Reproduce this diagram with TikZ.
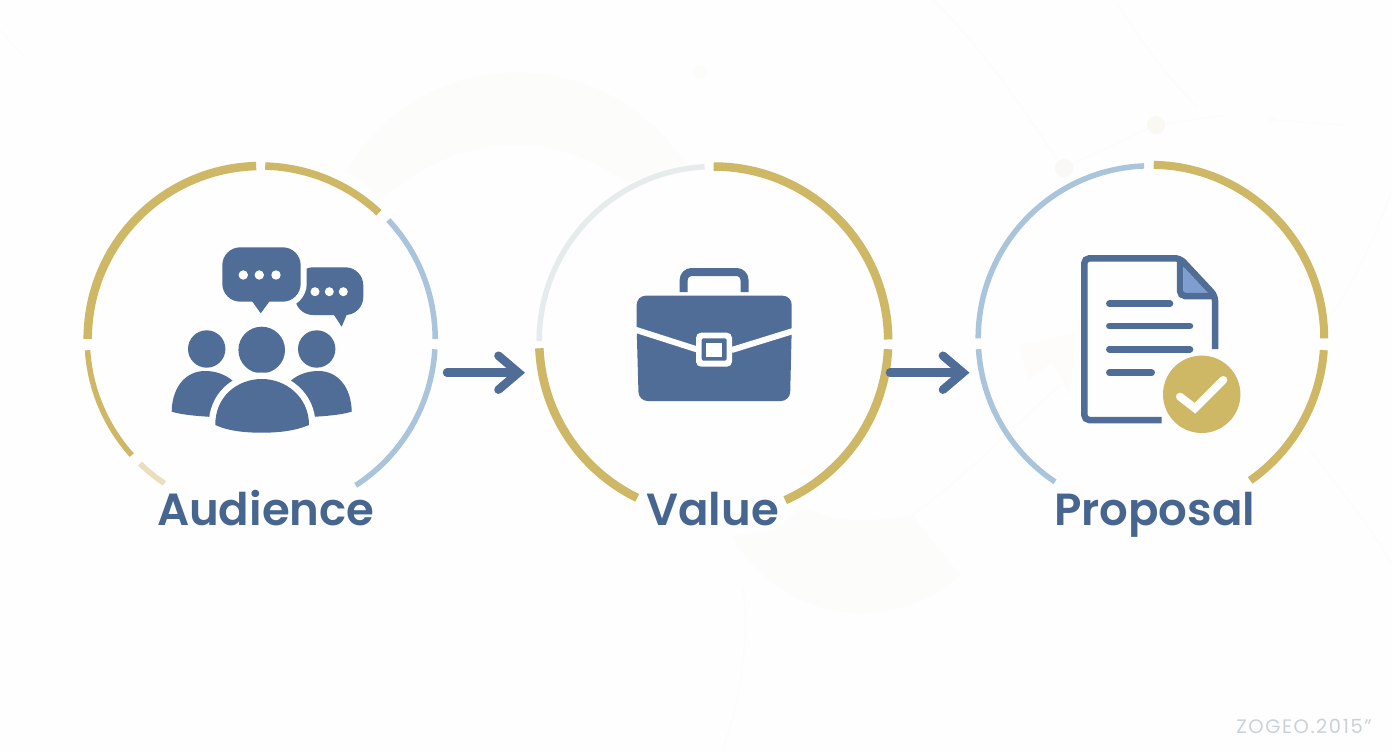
\documentclass[tikz,border=0pt]{standalone}
\usepackage{fontspec}
\setmainfont{Poppins}[BoldFont={* SemiBold}]
\usetikzlibrary{arrows.meta}
\definecolor{bgc}{HTML}{FEFEFE}
\definecolor{ghost}{HTML}{FCFCFA}
\definecolor{ghostl}{HTML}{FDFCFB}
\definecolor{ghostd}{HTML}{FAF8F3}
\definecolor{gold}{HTML}{CEB765}
\definecolor{palegold}{HTML}{E9DFBE}
\definecolor{sky}{HTML}{A9C4DB}
\definecolor{mist}{HTML}{E6ECEC}
\definecolor{slate}{HTML}{4F6D96}
\definecolor{labelc}{HTML}{466690}
\definecolor{fold}{HTML}{7F9DCF}
\definecolor{mark}{HTML}{CAD2D9}
\newcommand{\ringarc}[6]{\draw[line width=#5pt,draw=#6] ([shift={(#3:#2pt)}]#1) arc[start angle=#3,end angle=#4,radius=#2pt];}
\tikzset{
  hub/.style={circle,minimum size=340pt,inner sep=0pt},
  caption/.style={anchor=base,inner sep=0pt,text=labelc,font=\fontsize{45}{45}\selectfont\bfseries},
  flow/.style={draw=slate,line width=8.5pt,line cap=round,-{Straight Barb[length=20pt,width=34pt,line cap=round,line join=miter]}},
  thin ghost/.style={draw=ghostl,line width=1.2pt},
  icon/.style={fill=slate,draw=none},
  docline/.style={draw=slate,line width=6.5pt,line cap=round},
}
\begin{document}
\begin{tikzpicture}[x=1pt,y=-1pt]
\useasboundingbox (0,0) rectangle (1392,752);
\fill[bgc] (0,0) rectangle (1392,752);
% background ghosts
\fill[ghost] (346.7,171.7) .. controls (385,105) and (450,72.7) .. (516.7,72.7) .. controls (585,72.7) and (645,105) .. (685,163) -- (626.7,183) .. controls (595,158) and (555,145) .. (516.7,145) .. controls (470,145) and (425,162) .. (383,196.7) -- cycle;
\fill[ghost] (731.7,536.7) .. controls (765,590) and (815,613) .. (860,613) .. controls (900,613) and (935,598) .. (960,575) -- (911.7,515) .. controls (895,519) and (875,520) .. (856.7,520) .. controls (838,520) and (820,515) .. (803,506.7) -- (775,530) -- cycle;
\fill[ghostl] (1020,345) -- (1075,333) -- (1070,395) -- (1052,362) -- (1028,380) -- cycle;
\draw[thin ghost] (743,587) .. controls (750,640) and (740,700) .. (722,752);
\draw[thin ghost] (911.7,515) .. controls (950,490) and (1000,440) .. (1060,385);
\draw[thin ghost] (933,0) .. controls (960,25) and (1010,85) .. (1060,165);
\draw[thin ghost] (1117,3) .. controls (1140,40) and (1170,80) .. (1197,107);
\draw[thin ghost] (1064,168) -- (1156,125) -- (1225,115);
\draw[thin ghost] (1272,120) -- (1345,125);
\draw[thin ghost] (1392,190) .. controls (1370,250) and (1350,290) .. (1327,320);
\draw[thin ghost] (1310,450) .. controls (1340,490) and (1370,525) .. (1392,565);
\draw[thin ghost] (0,30) -- (25,58);
\fill[ghostd] (1064,168) circle[radius=9pt];
\fill[ghostd] (1156,125) circle[radius=9pt];
\fill[ghost] (700,72) circle[radius=7pt];
\fill[ghost] (1272,120) circle[radius=3pt];
% hubs
\node[hub] (c1) at (260.7,339) {};
\node[hub] (c2) at (713.7,341) {};
\node[hub] (c3) at (1150.7,338.3) {};
% ring 1
\ringarc{c1}{173}{180}{91.5}{8.5}{gold}
\ringarc{c1}{173}{88.5}{46.9}{7.5}{gold}
\ringarc{c1}{174.5}{43}{0}{5.5}{sky}
\ringarc{c1}{174.5}{-3.4}{-57}{5.5}{sky}
\ringarc{c1}{173.5}{183.7}{222}{5.5}{gold}
\ringarc{c1}{173.5}{225.9}{236.3}{5.5}{palegold}
% ring 2
\ringarc{c2}{174.5}{180}{93}{5.5}{mist}
\ringarc{c2}{174.5}{90}{0.5}{8.5}{gold}
\ringarc{c2}{174.5}{-2.7}{-65.8}{8.5}{gold}
\ringarc{c2}{174.5}{182.4}{244}{8.5}{gold}
% ring 3
\ringarc{c3}{172.5}{180}{92.2}{5.5}{sky}
\ringarc{c3}{173.5}{89}{0}{8}{gold}
\ringarc{c3}{173.5}{-3.9}{-55}{8}{gold}
\ringarc{c3}{172.5}{183.6}{236.3}{5.5}{sky}
% people icon
\fill[icon,rounded corners=18pt] (295,267.3) rectangle (363.3,315);
\fill[icon] (333.3,314) -- (341.7,326.7) -- (347,314) -- cycle;
\draw[white,line width=12pt,rounded corners=18pt] (222.3,247.3) rectangle (300.7,301.7);
\fill[icon,rounded corners=18pt] (222.3,247.3) rectangle (300.7,301.7);
\fill[icon] (251.7,300.7) -- (260.7,313.3) -- (270,300.7) -- cycle;
\foreach \x in {243.3,259.3,276}{\fill[white] (\x,275) circle[radius=4.7pt];}
\foreach \x in {315,329.3,343.3}{\fill[white] (\x,291.7) circle[radius=4.5pt];}
\fill[icon] (206.7,349) circle[radius=18.7pt];
\fill[icon] (316.7,349) circle[radius=18.7pt];
\fill[icon] (261.7,350) circle[radius=23.3pt];
\fill[icon] (171.7,411.7) .. controls (172,388) and (185,371) .. (205,371) .. controls (215,371) and (225,374) .. (233,381) -- (212,417) .. controls (197,416) and (183,415) .. (171.7,411.7) -- cycle;
\fill[icon] (351.7,411.7) .. controls (351.4,388) and (338.4,371) .. (318.4,371) .. controls (308.4,371) and (298.4,374) .. (290.4,381) -- (311.4,417) .. controls (326.4,416) and (340.4,415) .. (351.7,411.7) -- cycle;
\path[draw=white,line width=13pt,fill=white] (215.3,425) .. controls (215,397) and (237,379) .. (261.7,379) .. controls (286,379) and (309,397) .. (309,425) .. controls (295,431) and (278,432.7) .. (261.7,432.7) .. controls (245,432.7) and (228,431) .. (215.3,425) -- cycle;
\fill[icon] (215.3,425) .. controls (215,397) and (237,379) .. (261.7,379) .. controls (286,379) and (309,397) .. (309,425) .. controls (295,431) and (278,432.7) .. (261.7,432.7) .. controls (245,432.7) and (228,431) .. (215.3,425) -- cycle;
% briefcase icon
\draw[slate,line width=8pt,rounded corners=8pt] (683.7,292) -- (683.7,272) -- (744.5,272) -- (744.5,292);
\fill[icon,rounded corners=9pt] (636.7,330) -- (636.7,295.7) -- (791.7,295.7) -- (791.7,330) -- (790,401) -- (638.7,401) -- cycle;
\draw[white,line width=6pt] (630,328) -- (696.7,349.3);
\draw[white,line width=6pt] (798,329.5) -- (731.7,350);
\fill[white,rounded corners=5pt] (696,332.7) rectangle (732,366.7);
\fill[icon,rounded corners=2pt] (701.7,338.3) rectangle (726.7,360.7);
\fill[white] (706,342.7) rectangle (721.7,356.7);
% document icon
\fill[fold] (1183.3,266.7) -- (1208.3,293.3) -- (1183.3,293.3) -- cycle;
\draw[slate,line width=6.5pt,rounded corners=5pt] (1161.7,420) -- (1084.3,420) -- (1084.3,258.3) -- (1180,258.3) -- (1215,295.7) -- (1215,349);
\draw[slate,line width=6.5pt,rounded corners=5pt] (1180,258.3) -- (1180,296) -- (1215,296);
\draw[docline] (1109.3,303.7) -- (1170,303.7);
\draw[docline] (1109.3,326) -- (1190,326);
\draw[docline] (1109.3,349.3) -- (1190,349.3);
\draw[docline] (1109.3,372.7) -- (1151.7,372.7);
\fill[gold] (1201.7,394.3) circle[radius=38.7pt];
\draw[white,line width=8pt,line cap=round,line join=miter] (1180,396.7) -- (1195,408.3) -- (1223.3,380);
% connectors
\coordinate (a1s) at (447,372.7);
\coordinate (a1e) at (525,372.7);
\coordinate (a2s) at (890,372.7);
\coordinate (a2e) at (969.5,372.7);
\draw[flow] (a1s) -- (a1e);
\draw[flow] (a2s) -- (a2e);
% captions
\node[caption] (t1) at (265.7,525) {Audience};
\node[caption] (t2) at (712.5,525) {Value};
\node[caption] (t3) at (1154.5,525) {Proposal};
\node[anchor=base east,inner sep=0pt,text=mark,font=\fontsize{19.5}{19.5}\selectfont\addfontfeature{LetterSpace=8}] (wm) at (1372,733) {ZOGEO.2015"};
\end{tikzpicture}
\end{document}
